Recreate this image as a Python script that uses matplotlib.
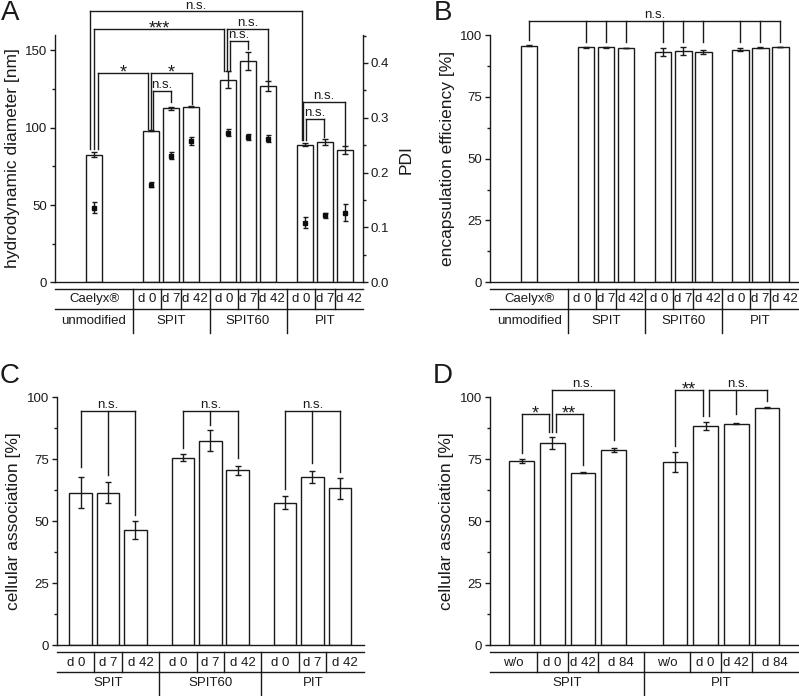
import matplotlib
matplotlib.use('Agg')
import matplotlib.pyplot as plt
from matplotlib.ticker import MultipleLocator

plt.rcParams['font.family'] = ['Liberation Sans', 'DejaVu Sans']
plt.rcParams['axes.linewidth'] = 1.0

# ---------------- data ----------------
# A: hydrodynamic diameter (bars) + PDI (points)
a_labels = ['Caelyx®', 'd 0', 'd 7', 'd 42', 'd 0', 'd 7', 'd 42', 'd 0', 'd 7', 'd 42']
a_groups = ['unmodified', 'SPIT', 'SPIT60', 'PIT']
a_size = [82.5, 98.0, 112.5, 113.6, 131.2, 143.0, 127.0, 89.1, 91.0, 85.5]
a_size_err = [1.5, 0.4, 1.0, 0.4, 5.4, 5.7, 3.4, 1.0, 2.0, 2.6]
a_pdi = [0.136, 0.178, 0.231, 0.258, 0.273, 0.265, 0.262, 0.109, 0.122, 0.127]
a_pdi_err = [0.010, 0.005, 0.007, 0.007, 0.006, 0.005, 0.007, 0.010, 0.005, 0.015]

# B: encapsulation efficiency
b_ee = [95.6, 95.0, 95.0, 94.8, 93.1, 93.5, 93.2, 94.0, 94.9, 95.1]
b_ee_err = [0.2, 0.3, 0.3, 0.1, 1.5, 1.5, 0.8, 0.6, 0.1, 0.1]

# C: cellular association over storage time
c_labels = ['d 0', 'd 7', 'd 42', 'd 0', 'd 7', 'd 42', 'd 0', 'd 7', 'd 42']
c_groups = ['SPIT', 'SPIT60', 'PIT']
c_assoc = [61.5, 61.5, 46.5, 75.6, 82.5, 70.5, 57.5, 67.7, 63.2]
c_err = [6.2, 4.2, 3.6, 1.5, 4.2, 1.7, 2.7, 2.4, 4.1]

# D: cellular association, w/o vs stored
d_labels = ['w/o', 'd 0', 'd 42', 'd 84', 'w/o', 'd 0', 'd 42', 'd 84']
d_groups = ['SPIT', 'PIT']
d_assoc = [74.2, 81.5, 69.6, 78.8, 73.9, 88.4, 89.4, 95.8]
d_err = [0.9, 2.5, 0.3, 0.9, 4.2, 1.6, 0.2, 0.2]

# ---------------- layout ----------------
W, H = 799, 696
fig = plt.figure(figsize=(W / 100, H / 100), dpi=100)
INK = '0.1'

pos_ab = [0, 2.85, 3.85, 4.85, 6.7, 7.7, 8.7, 10.55, 11.55, 12.55]
cells_ab = [-1.95, 1.95, 3.35, 4.35, 5.775, 7.2, 8.2, 9.625, 11.05, 12.05, 13.45]
groups_ab = [-1.95, 1.95, 5.775, 9.625, 13.45]

pos_c = [0, 1, 2, 3.73, 4.73, 5.73, 7.46, 8.46, 9.46]
cells_c = [-0.865, 0.5, 1.5, 2.865, 4.23, 5.23, 6.595, 7.96, 8.96, 10.34]
groups_c = [-0.865, 2.865, 6.595, 10.34]

pos_d = [0, 1, 2, 3, 5, 6, 7, 8]
cells_d = [-1.03, 0.5, 1.5, 2.5, 4.0, 5.5, 6.5, 7.5, 9.03]
groups_d = [-1.03, 4.0, 9.03]


def px_axes(l, t, r, b):
    return fig.add_axes([l / W, 1 - b / H, (r - l) / W, (b - t) / H])


def style(ax, major, minor, right=False):
    for s in ['top', 'right']:
        ax.spines[s].set_visible(False)
    if right:
        ax.spines['right'].set_visible(True)
    for s in ax.spines.values():
        s.set_color(INK)
    ax.set_xticks([])
    ax.yaxis.set_major_locator(MultipleLocator(major))
    ax.yaxis.set_minor_locator(MultipleLocator(minor))
    ax.tick_params(axis='y', which='major', direction='out', length=3.6, width=1.0,
                   color=INK, labelsize=9.5, pad=2, labelcolor='0.1')
    ax.tick_params(axis='y', which='minor', direction='out', length=2.2, width=1.0, color=INK)


def bars(ax, pos, vals, err, width):
    ax.bar(pos, vals, width, color='white', edgecolor=INK, linewidth=1.0, zorder=2)
    ax.errorbar(pos, vals, yerr=err, fmt='none', ecolor=INK, elinewidth=1.0,
                capsize=2.5, capthick=1.0, zorder=3)


def table(ax, hpx, cells, labels, gcells, glabels, y=(7, 27, 17.5, 38.5, 51)):
    tr = ax.get_xaxis_transform()
    ytop, ysep, yt1, yt2, ybot = [-v / hpx for v in y]
    kw = dict(color=INK, lw=1.0, transform=tr, clip_on=False)
    ax.plot([cells[0], cells[-1]], [ytop, ytop], **kw)
    ax.plot([cells[0], cells[-1]], [ysep, ysep], **kw)
    for x in cells[1:-1]:
        ax.plot([x, x], [ytop, ysep], **kw)
    for x in gcells[1:-1]:
        ax.plot([x, x], [ysep, ybot], **kw)
    for i, lab in enumerate(labels):
        ax.text((cells[i] + cells[i + 1]) / 2, yt1, lab, transform=tr, ha='center',
                va='center', fontsize=9.5, color='0.1')
    for i, lab in enumerate(glabels):
        ax.text((gcells[i] + gcells[i + 1]) / 2, yt2, lab, transform=tr, ha='center',
                va='center', fontsize=9.5, color='0.1')


def bracket(ax, xs, lows, y, label, dy=None):
    kw = dict(color=INK, lw=1.0, clip_on=False, zorder=4)
    ax.plot([min(xs), max(xs)], [y, y], **kw)
    for x, lo in zip(xs, lows):
        ax.plot([x, x], [lo, y], **kw)
    xc = (min(xs) + max(xs)) / 2
    if label.startswith('*'):
        ax.annotate(label, (xc, y), xytext=(0, -3.3 if dy is None else dy),
                    textcoords='offset points', ha='center', va='baseline',
                    fontsize=13, color='0.1', annotation_clip=False)
    else:
        ax.annotate(label, (xc, y), xytext=(0, 2.2 if dy is None else dy),
                    textcoords='offset points', ha='center', va='baseline',
                    fontsize=9.5, color='0.1', annotation_clip=False)


def ylab(x, y, s):
    fig.text(x / W, 1 - y / H, s, rotation=90, ha='center', va='center', fontsize=12.5,
             color='0.1')


def letter(x, y, s):
    fig.text(x / W, 1 - y / H, s, ha='left', va='baseline', fontsize=20, color='0.1')


# ---------------- A ----------------
axA = px_axes(55, 35, 363, 282.3)
style(axA, 50, 25)
axA.set_xlim(-1.95, 13.45)
axA.set_ylim(0, 160)
bars(axA, pos_ab, a_size, a_size_err, 0.82)
axA2 = axA.twinx()
axA2.set_ylim(0, 0.451)
style(axA2, 0.1, 0.05, right=True)
axA2.spines['left'].set_visible(False)
axA2.spines['bottom'].set_visible(False)
axA2.yaxis.set_major_formatter(matplotlib.ticker.FormatStrFormatter('%.1f'))
axA2.errorbar(pos_ab, a_pdi, yerr=a_pdi_err, fmt='s', ms=3, color='0.05', ecolor=INK,
              elinewidth=1.0, capsize=1.8, capthick=1.0, zorder=5)
table(axA, 247.3, cells_ab, a_labels, groups_ab, a_groups, y=(7, 27, 17, 38.7, 50.7))

bracket(axA, [-0.2, 10.4], [86, 92], 175.5, 'n.s.', dy=1.3)
bracket(axA, [0.0, 6.5], [86, 137], 163.7, '***')
bracket(axA, [6.67, 8.68], [137, 130], 163.7, 'n.s.')
bracket(axA, [6.8, 7.72], [137, 151], 156, 'n.s.')
bracket(axA, [0.2, 2.7], [86, 99.5], 135.3, '*')
bracket(axA, [2.85, 4.9], [99.5, 115.5], 135.3, '*')
bracket(axA, [2.95, 3.85], [99.5, 116.7], 124, 'n.s.')
bracket(axA, [10.47, 12.55], [92, 89], 116.7, 'n.s.')
bracket(axA, [10.6, 11.52], [92, 94], 105.4, 'n.s.')

ylab(12.5, 158.5, 'hydrodynamic diameter [nm]')
ylab(406, 160, 'PDI')
letter(1, 20, 'A')

# ---------------- B ----------------
axB = px_axes(490, 35, 798.5, 282.3)
style(axB, 25, 12.5)
axB.set_xlim(-1.95, 13.45)
axB.set_ylim(0, 100)
bars(axB, pos_ab, b_ee, b_ee_err, 0.82)
table(axB, 247.3, cells_ab, a_labels, groups_ab, a_groups, y=(7, 27, 17, 38.7, 50.7))
bracket(axB, pos_ab, [98] + [97.3] * 9, 105.7, 'n.s.')
ylab(447.5, 158.5, 'encapsulation efficiency [%]')
letter(434, 20, 'B')

# ---------------- C ----------------
axC = px_axes(57, 397.3, 364, 645)
style(axC, 25, 12.5)
axC.set_xlim(-0.865, 10.34)
axC.set_ylim(0, 100)
bars(axC, pos_c, c_assoc, c_err, 0.82)
table(axC, 247.7, cells_c, c_labels, groups_c, c_groups, y=(7.3, 27.3, 17.7, 38.3, 51))
bracket(axC, pos_c[0:3], [72, 68.6, 52.5], 94.3, 'n.s.')
bracket(axC, pos_c[3:6], [79.5, 88.8, 75.5], 94.3, 'n.s.')
bracket(axC, pos_c[6:9], [63, 73.5, 69.8], 94.3, 'n.s.')
ylab(13.5, 521, 'cellular association [%]')
letter(0, 383, 'C')

# ---------------- D ----------------
axD = px_axes(490, 397.3, 798.5, 645)
style(axD, 25, 12.5)
axD.set_xlim(-1.03, 9.03)
axD.set_ylim(0, 100)
bars(axD, pos_d, d_assoc, d_err, 0.8)
table(axD, 247.7, cells_d, d_labels, groups_d, d_groups, y=(7.3, 27.3, 17.7, 38.3, 51))
bracket(axD, [0.0, 0.89], [77.4, 86.1], 93.1, '*')
bracket(axD, [1.11, 2.0], [86.1, 72.7], 93.1, '**')
bracket(axD, [1.0, 3.0], [86.1, 82.8], 103, 'n.s.')
bracket(axD, [5.0, 5.91], [80.3, 92.3], 103, '**')
bracket(axD, [6.1, 7.0, 8.01], [92.3, 93.1, 98.4], 103, 'n.s.')
ylab(446.5, 521, 'cellular association [%]')
letter(433, 383, 'D')

fig.savefig('out.png', dpi=100)
